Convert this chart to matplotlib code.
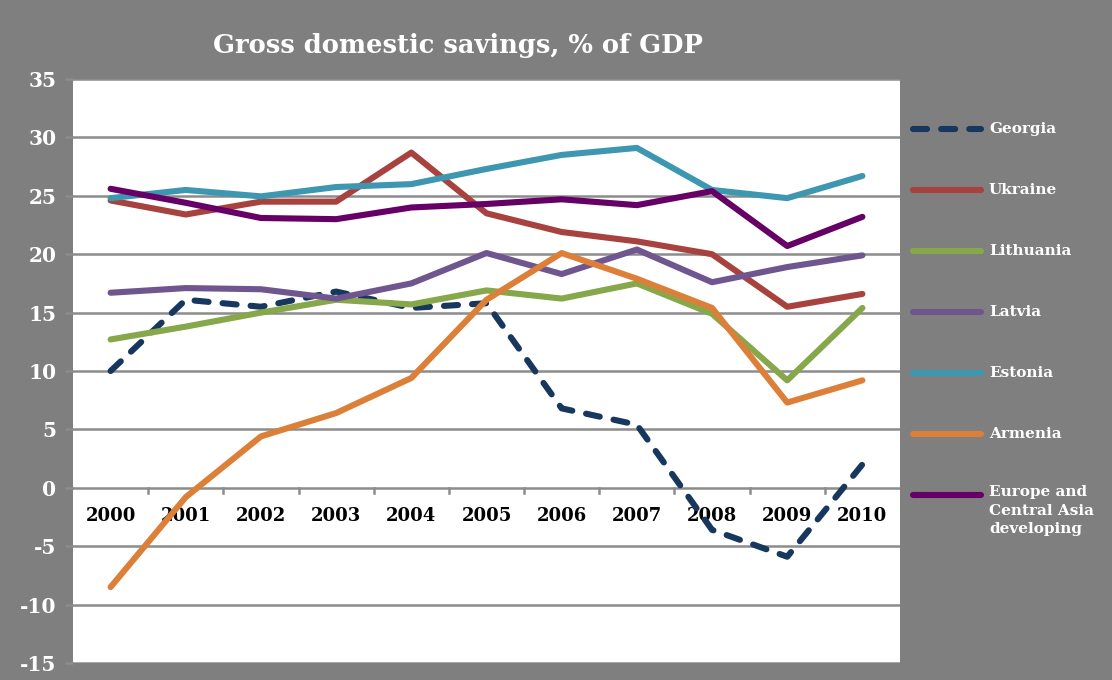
import matplotlib
matplotlib.use("Agg")
import matplotlib.pyplot as plt
from matplotlib.lines import Line2D

plt.rcParams["axes.unicode_minus"] = False

# Gross domestic savings, % of GDP, 2000-2010
years = ["2000", "2001", "2002", "2003", "2004", "2005",
         "2006", "2007", "2008", "2009", "2010"]

georgia = [10.0, 16.1, 15.5, 16.8, 15.4, 15.8, 6.8, 5.4, -3.6, -5.9, 2.0]
ukraine = [24.6, 23.4, 24.5, 24.5, 28.7, 23.5, 21.9, 21.1, 20.0, 15.5, 16.6]
lithuania = [12.7, 13.8, 15.0, 16.1, 15.7, 16.9, 16.2, 17.5, 14.9, 9.2, 15.4]
latvia = [16.7, 17.1, 17.0, 16.2, 17.5, 20.1, 18.3, 20.4, 17.6, 18.9, 19.9]
estonia = [24.8, 25.5, 24.95, 25.75, 26.0, 27.3, 28.5, 29.1, 25.5, 24.8, 26.7]
armenia = [-8.5, -0.8, 4.4, 6.4, 9.4, 16.1, 20.1, 17.9, 15.4, 7.3, 9.2]
eca_dev = [25.6, 24.4, 23.1, 23.0, 24.0, 24.3, 24.7, 24.2, 25.4, 20.7, 23.2]

series = [
    ("Georgia", georgia, "#17375e", True),
    ("Ukraine", ukraine, "#a8423f", False),
    ("Lithuania", lithuania, "#86a84a", False),
    ("Latvia", latvia, "#6f568f", False),
    ("Estonia", estonia, "#3e97b1", False),
    ("Armenia", armenia, "#dc8039", False),
    ("Europe and\nCentral Asia\ndeveloping", eca_dev, "#660066", False),
]

bg = "#7f7f7f"
grid = "#8c8c8c"
font = "DejaVu Serif"

fig = plt.figure(figsize=(11.12, 6.8), dpi=100, facecolor=bg)
ax = fig.add_axes([73 / 1112, 17 / 680, 827 / 1112, 584 / 680])
ax.set_facecolor("white")

x = list(range(len(years)))
lw = 4.4
for name, vals, color, dashed in series:
    line, = ax.plot(x, vals, color=color, lw=lw, solid_capstyle="round",
                    solid_joinstyle="round", dash_capstyle="round",
                    dash_joinstyle="round", zorder=3)
    if dashed:
        line.set_dashes((2.3, 2.3))

ax.set_xlim(-0.5, len(years) - 0.5)
ax.set_ylim(-15, 35)
ax.set_yticks(range(-15, 36, 5))
ax.grid(axis="y", color=grid, lw=1.8, zorder=1)
ax.set_axisbelow(True)
for s in ax.spines.values():
    s.set_visible(False)
ax.tick_params(axis="y", length=6, width=1.8, color=grid, pad=6,
               labelcolor="white", labelsize=14.5)
for lab in ax.get_yticklabels():
    lab.set_fontfamily(font)
    lab.set_fontweight("bold")

# category labels sit just below the zero line
ax.set_xticks([])
for i, yr in enumerate(years):
    ax.text(i, -2.4, yr, ha="center", va="center", fontsize=13,
            fontweight="bold", family=font, color="black", zorder=2)
for i in range(1, len(years)):
    ax.plot([i - 0.5, i - 0.5], [0, -0.45], color=grid, lw=1.8, zorder=1)

fig.text(458 / 1112, 1 - 46 / 680, "Gross domestic savings, % of GDP",
         ha="center", va="center", fontsize=18.5, fontweight="bold",
         family=font, color="white")

# legend on the grey strip at the right
for k, (name, vals, color, dashed) in enumerate(series):
    yy = 1 - (129 + 61 * k) / 680
    h = Line2D([913 / 1112, 981 / 1112], [yy, yy], transform=fig.transFigure,
               color=color, lw=lw, solid_capstyle="round",
               dash_capstyle="round")
    if dashed:
        h.set_dashes((2.3, 2.3))
    fig.add_artist(h)
    multi = "\n" in name
    fig.text(989 / 1112, yy + (0.014 if multi else 0), name,
             ha="left", va="top" if multi else "center",
             fontsize=11, fontweight="bold", family=font, color="white",
             linespacing=1.4)

fig.savefig("out.png", dpi=100, facecolor=bg)
